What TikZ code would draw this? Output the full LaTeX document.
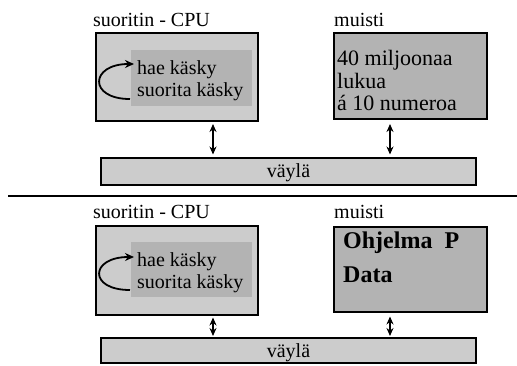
\documentclass[tikz,border=0pt]{standalone}
\usepackage{fontspec}
\setmainfont{Liberation Serif}
\usetikzlibrary{arrows.meta}
\definecolor{lightfill}{RGB}{204,204,204}
\definecolor{midfill}{RGB}{179,179,179}
\tikzset{
  box/.style={rectangle, draw=black, line width=2.8pt, anchor=north west, inner sep=0pt, outer sep=0pt},
  cpubox/.style={box, fill=lightfill},
  membox/.style={box, fill=midfill},
  busbox/.style={rectangle, draw=black, line width=2.2pt, fill=lightfill, anchor=north west, inner sep=0pt, outer sep=0pt},
  innerbox/.style={rectangle, fill=midfill, anchor=north west, inner sep=0pt, outer sep=0pt},
  lbl/.style={anchor=base west, inner sep=0pt, font=\fontsize{20}{24}\selectfont},
  memtxt/.style={anchor=base west, inner sep=0pt, font=\fontsize{22}{26}\selectfont},
  boldtxt/.style={anchor=base west, inner sep=0pt, font=\fontsize{24}{28}\selectfont\bfseries},
  bustxt/.style={anchor=base, inner sep=0pt, font=\fontsize{20}{24}\selectfont},
  dbl/.style={line width=1.4pt, {Stealth[length=8pt,width=7pt]}-{Stealth[length=8pt,width=7pt]}, shorten <=3pt, shorten >=3.5pt},
  loopar/.style={line width=1.8pt, -{Stealth[length=9pt,width=8pt]}},
}
\begin{document}
\begin{tikzpicture}[x=1pt,y=-1pt]
\useasboundingbox (0,0) rectangle (517,365);

% ---------- top half ----------
\node[lbl] (cpulab1) at (93,26) {suoritin - CPU};
\node[lbl] (memlab1) at (334,26) {muisti};
\node[cpubox, minimum width=162pt, minimum height=88pt] (cpu1) at (96,33) {};
\node[innerbox, minimum width=121pt, minimum height=56pt] (inner1) at (131,50) {};
\node[lbl] (hae1) at (137,74) {hae käsky};
\node[lbl] (suor1) at (137,96) {suorita käsky};
\draw[loopar] (130,99) .. controls (88,99) and (90,64) .. (134,64);
\node[membox, minimum width=153pt, minimum height=86pt] (mem1) at (334,33) {};
\node[memtxt] (m1a) at (337,65) {40 miljoonaa};
\node[memtxt] (m1b) at (337,88) {lukua};
\node[memtxt] (m1c) at (337,110) {á 10 numeroa};
\node[busbox, minimum width=375pt, minimum height=27pt] (bus1) at (101,158) {};
\node[bustxt] (bustxt1) at (288.5,177) {väylä};
\coordinate (ax) at (213,0);
\coordinate (bx) at (390,0);
\draw[dbl] (cpu1.south -| ax) -- (bus1.north -| ax);
\draw[dbl, shorten <=5pt] (mem1.south -| bx) -- (bus1.north -| bx);

% ---------- separator ----------
\coordinate (sepl) at (8,196);
\coordinate (sepr) at (517,196);
\draw[line width=2.5pt] (sepl) -- (sepr);

% ---------- bottom half ----------
\node[lbl] (cpulab2) at (93,218) {suoritin - CPU};
\node[lbl] (memlab2) at (334,218) {muisti};
\node[cpubox, minimum width=162pt, minimum height=89pt] (cpu2) at (96,226) {};
\node[innerbox, minimum width=121pt, minimum height=55pt] (inner2) at (131,242) {};
\node[lbl] (hae2) at (137,266) {hae käsky};
\node[lbl] (suor2) at (137,288) {suorita käsky};
\draw[loopar] (130,290) .. controls (88,290) and (90,257) .. (134,257);
\node[membox, minimum width=153pt, minimum height=85pt] (mem2) at (334,227) {};
\node[boldtxt] (m2a) at (343,248) {Ohjelma\ \ P};
\node[boldtxt] (m2b) at (343,282) {Data};
\node[busbox, minimum width=375pt, minimum height=25pt] (bus2) at (101,338) {};
\node[bustxt] (bustxt2) at (288.5,357) {väylä};
\draw[dbl, shorten <=2.5pt, shorten >=2pt] (cpu2.south -| ax) -- (bus2.north -| ax);
\draw[dbl, shorten <=4.5pt, shorten >=2pt] (mem2.south -| bx) -- (bus2.north -| bx);
\end{tikzpicture}
\end{document}
